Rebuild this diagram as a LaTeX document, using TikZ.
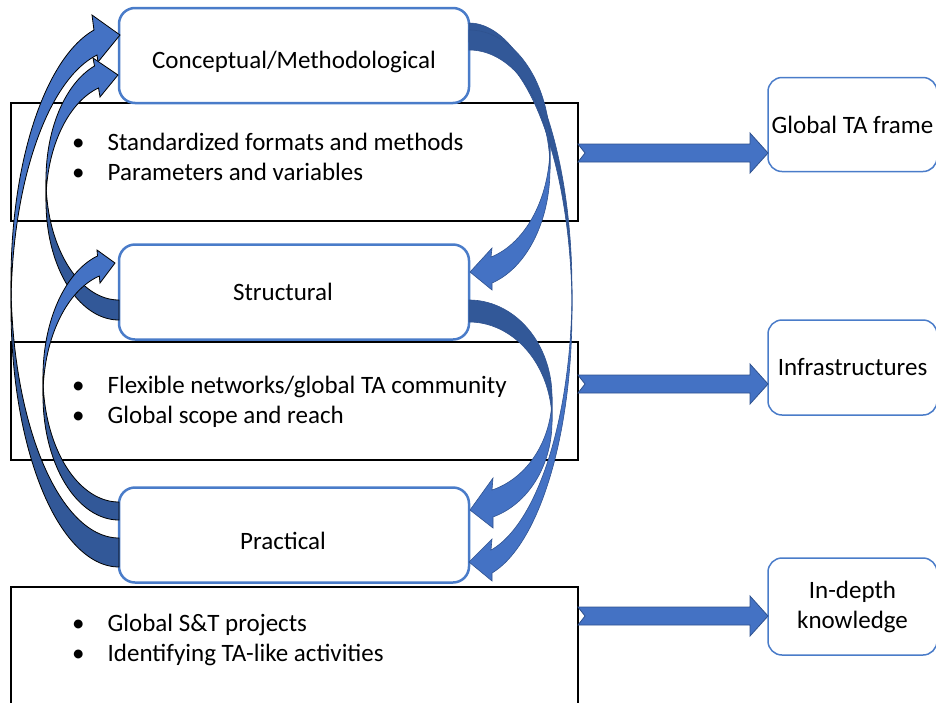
\documentclass[tikz,border=0pt]{standalone}
\usepackage{fontspec}
\setmainfont{Carlito}
\usetikzlibrary{calc}

\definecolor{boxblue}{RGB}{74,124,201}
\definecolor{arrowblue}{RGB}{68,114,196}
\definecolor{arrowdark}{RGB}{50,88,152}
\definecolor{arrowedge}{RGB}{47,82,143}

\tikzset{
  stage/.style={draw=boxblue, line width=2.5pt, rounded corners=16pt, fill=white,
    minimum width=350pt, minimum height=95pt, outer sep=0pt, inner sep=0pt},
  listbox/.style={draw=black, line width=1.3pt, minimum width=567pt, outer sep=0pt},
  bullets/.style={anchor=base west, inner sep=0pt},
  result/.style={draw=boxblue, line width=1.5pt, rounded corners=14pt, fill=white,
    minimum width=169pt, minimum height=94pt, align=center, outer sep=0pt},
  backface/.style={fill=arrowdark, draw=black, line width=0.8pt},
  frontface/.style={fill=arrowblue, draw=black, line width=0.8pt},
  backright/.style={fill=arrowdark, draw=arrowedge, line width=0.6pt},
  frontright/.style={fill=arrowblue, draw=arrowedge, line width=0.6pt},
  sidearrow/.style={fill=arrowblue, draw=arrowedge, line width=0.8pt},
}

% notched block arrow from a list box to a result box
\newcommand\flatarrow[3]{%
  \path[sidearrow] let \p1=(#1.east |- #3), \p2=(#2.west |- #3) in
    (\x1,{\y1+9pt}) -- ({\x2-18pt},{\y1+9pt}) -- ({\x2-18pt},{\y1+20pt}) -- (\x2,\y1)
    -- ({\x2-18pt},{\y1-20pt}) -- ({\x2-18pt},{\y1-9pt}) -- (\x1,{\y1-9pt})
    -- ({\x1+7pt},\y1) -- cycle;}

\begin{document}
\begin{tikzpicture}[x=1pt, y=-1pt, font=\fontsize{25}{30}\selectfont]
  \useasboundingbox (0,0) rectangle (936,702);

  % list boxes
  \node[listbox, minimum height=118pt] (rA) at (294.5,162) {};
  \node[listbox, minimum height=118pt] (rB) at (294.5,401) {};
  \node[listbox, minimum height=133pt] (rC) at (294.5,653.5) {};

  \node[bullets] (lA) at (72,150) {\begin{tabular}[t]{@{}l@{\hspace{23pt}}l@{}}
    \textbullet & Standardized formats and methods\\
    \textbullet & Parameters and variables\end{tabular}};
  \node[bullets] (lB) at (72,393) {\begin{tabular}[t]{@{}l@{\hspace{23pt}}l@{}}
    \textbullet & Flexible networks/global TA community\\
    \textbullet & Global scope and reach\end{tabular}};
  \node[bullets] (lC) at (72,631) {\begin{tabular}[t]{@{}l@{\hspace{23pt}}l@{}}
    \textbullet & Global S\&T projects\\
    \textbullet & Identifying TA-like activities\end{tabular}};

  % stages
  \node[stage, label={[yshift=-6pt]center:Conceptual/Methodological}] (concept) at (294,55.5) {};
  \node[stage, label={[xshift=-11pt]center:Structural}] (struct) at (294,292) {};
  \node[stage, label={[xshift=-11pt, yshift=-6pt]center:Practical}] (prac) at (294,535) {};

  % outcomes
  \node[result] (frame) at (852.5,124.5) {Global TA frame};
  \node[result, minimum height=95pt] (infra) at (852.5,367.5) {Infrastructures};
  \node[result, minimum height=97pt] (depth) at (852.5,606.5) {In-depth\\knowledge};

  \coordinate (row1) at (0,153);
  \coordinate (row2) at (0,384);
  \coordinate (row3) at (0,616);
  \flatarrow{rA}{frame}{row1}
  \flatarrow{rB}{infra}{row2}
  \flatarrow{rC}{depth}{row3}

  % Practical -> Conceptual
  \begin{scope}[shift={(prac.west)}, samples=60]
    \filldraw[backface] plot[domain=90:180] ({108*cos(\x)},{-226.7+258.7*sin(\x)})
      -- plot[domain=180:90] ({108*cos(\x)},{-254.5+257.5*sin(\x)}) -- cycle;
    \filldraw[frontface] plot[domain=180:256.6] ({108*cos(\x)},{-254.5+257.5*sin(\x)})
      -- (-27,-520) -- (1,-500) -- (-21,-473)
      -- plot[domain=258.25:180] ({108*cos(\x)},{-226.7+258.7*sin(\x)}) -- cycle;
  \end{scope}

  % Structural -> Conceptual
  \begin{scope}[shift={(struct.west)}, samples=60]
    \filldraw[backface] plot[domain=90:180] ({73*cos(\x)},{-90.4+118.4*sin(\x)})
      -- plot[domain=180:90] ({73*cos(\x)},{-112.5+120.5*sin(\x)}) -- cycle;
    \filldraw[frontface] plot[domain=180:250.4] ({73*cos(\x)},{-112.5+120.5*sin(\x)})
      -- (-26,-234) -- (-1,-217) -- (-19,-195)
      -- plot[domain=253.7:180] ({73*cos(\x)},{-90.4+118.4*sin(\x)}) -- cycle;
  \end{scope}

  % Practical -> Structural
  \begin{scope}[shift={(prac.west)}, samples=60]
    \filldraw[backface] plot[domain=90:180] ({76*cos(\x)},{-139.1+124.1*sin(\x)})
      -- plot[domain=180:90] ({76*cos(\x)},{-158.6+125.6*sin(\x)}) -- cycle;
    \filldraw[frontface] plot[domain=180:253.57] ({76*cos(\x)},{-158.6+125.6*sin(\x)})
      -- (-22,-285) -- (-4,-272) -- (-19,-252)
      -- plot[domain=254.98:180] ({76*cos(\x)},{-139.1+124.1*sin(\x)}) -- cycle;
  \end{scope}

  % Conceptual -> Practical
  \begin{scope}[shift={(concept.east)}, samples=80]
    \filldraw[backright] plot[domain=270:360] ({103*cos(\x)},{234.1+266.6*sin(\x)})
      -- plot[domain=360:270] ({103*cos(\x)},{255.4+268.9*sin(\x)}) -- cycle;
    \filldraw[frontright] plot[domain=0:77.1] ({103*cos(\x)},{255.4+268.9*sin(\x)})
      -- (23,525.5) -- (0,506.5) -- (23,483.5)
      -- plot[domain=77.67:0] ({103*cos(\x)},{234.1+266.6*sin(\x)}) -- cycle;
  \end{scope}

  % Conceptual -> Structural
  \begin{scope}[shift={(concept.east)}, samples=60]
    \filldraw[backright] plot[domain=270:360] ({81*cos(\x)},{90.2+115.7*sin(\x)})
      -- plot[domain=360:270] ({81*cos(\x)},{113.45+118.95*sin(\x)}) -- cycle;
    \filldraw[frontright] plot[domain=0:73.5] ({81*cos(\x)},{113.45+118.95*sin(\x)})
      -- (23,234.5) -- (1,216.5) -- (23,192.5)
      -- plot[domain=74.24:0] ({81*cos(\x)},{90.2+115.7*sin(\x)}) -- cycle;
  \end{scope}

  % Structural -> Practical
  \begin{scope}[shift={(struct.east)}, samples=60]
    \filldraw[backright] plot[domain=270:360] ({83*cos(\x)},{104.9+96.9*sin(\x)})
      -- plot[domain=360:270] ({83*cos(\x)},{129.6+99.6*sin(\x)}) -- cycle;
    \filldraw[frontright] plot[domain=0:73.19] ({83*cos(\x)},{129.6+99.6*sin(\x)})
      -- (24,236) -- (1,218) -- (24,186)
      -- plot[domain=73.91:0] ({83*cos(\x)},{104.9+96.9*sin(\x)}) -- cycle;
  \end{scope}
\end{tikzpicture}
\end{document}
